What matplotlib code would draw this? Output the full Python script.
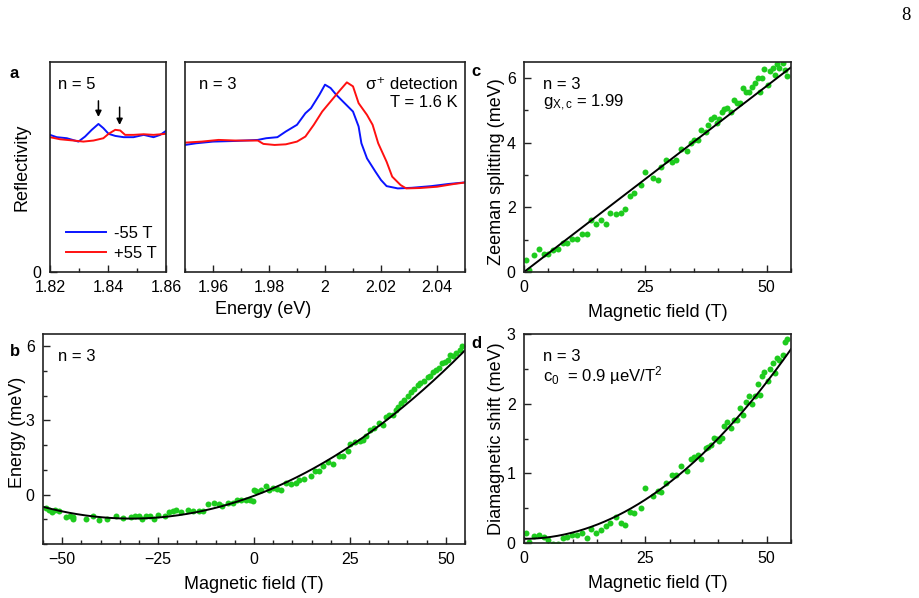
import numpy as np
import matplotlib
matplotlib.use("Agg")
import matplotlib.pyplot as plt
from matplotlib.ticker import MultipleLocator

plt.rcParams['font.family'] = ['Liberation Sans', 'DejaVu Sans']
plt.rcParams['mathtext.fontset'] = 'custom'
plt.rcParams['mathtext.rm'] = 'Liberation Sans'
plt.rcParams['mathtext.it'] = 'Liberation Sans:italic'
plt.rcParams['font.size'] = 12

# ---------------- panel a: reflectivity spectra (n = 5 and n = 3) ----------------
E5_neg = [1.8200, 1.8223, 1.8258, 1.8298, 1.8321, 1.8344, 1.8367, 1.8384, 1.8402,
          1.8425, 1.8454, 1.8488, 1.8523, 1.8557, 1.8580, 1.8600]
R5_neg = [0.653, 0.642, 0.637, 0.621, 0.645, 0.677, 0.705, 0.685, 0.658,
          0.648, 0.642, 0.642, 0.653, 0.642, 0.653, 0.672]
E5_pos = [1.8200, 1.8235, 1.8281, 1.8315, 1.8350, 1.8384, 1.8402, 1.8425, 1.8442,
          1.8459, 1.8488, 1.8523, 1.8557, 1.8600]
R5_pos = [0.642, 0.632, 0.626, 0.621, 0.626, 0.637, 0.658, 0.677, 0.674,
          0.653, 0.653, 0.656, 0.653, 0.658]

E3_neg = [1.950, 1.954, 1.960, 1.968, 1.976, 1.979, 1.983, 1.986, 1.990, 1.993,
          1.995, 1.998, 2.000, 2.002, 2.004, 2.007, 2.010, 2.012, 2.013, 2.015,
          2.018, 2.020, 2.022, 2.026, 2.031, 2.038, 2.044, 2.051]
R3_neg = [0.605, 0.613, 0.621, 0.624, 0.629, 0.637, 0.642, 0.669, 0.701, 0.756,
          0.780, 0.844, 0.892, 0.876, 0.844, 0.804, 0.764, 0.693, 0.613, 0.541,
          0.478, 0.438, 0.409, 0.398, 0.401, 0.409, 0.419, 0.428]
E3_pos = [1.950, 1.956, 1.962, 1.968, 1.976, 1.978, 1.982, 1.986, 1.990, 1.993,
          1.996, 1.999, 2.002, 2.005, 2.0078, 2.010, 2.012, 2.015, 2.017, 2.019,
          2.022, 2.024, 2.027, 2.029, 2.034, 2.040, 2.046, 2.051]
R3_pos = [0.616, 0.621, 0.629, 0.626, 0.626, 0.610, 0.605, 0.608, 0.621, 0.645,
          0.701, 0.764, 0.812, 0.860, 0.903, 0.884, 0.804, 0.748, 0.701, 0.613,
          0.525, 0.454, 0.414, 0.398, 0.400, 0.406, 0.419, 0.428]

arrow_E = [1.8367, 1.8440]
arrow_top = [0.815, 0.785]
arrow_tip = [0.738, 0.700]

# ---------------- panel b: exciton energy vs field ----------------
B_b = [-54.2, -53.5, -52.6, -51.8, -50.9, -49.0, -47.9, -47.3, -47.1, -43.8,
       -41.9, -40.3, -38.4, -36.0, -34.1, -32.1, -31.0, -29.9, -29.1, -28.2,
       -27.2, -26.0, -24.9, -23.2, -22.1, -21.0, -20.4, -19.1, -17.3, -16.0,
       -14.4, -13.2, -12.1, -10.3, -9.0, -8.3, -6.9, -5.6, -4.5, -3.3,
       -2.1, -1.0, -0.3, 0.1, 0.5, 1.8, 3.0, 4.0, 5.0, 5.9,
       7.0, 8.3, 9.6, 10.9, 11.8, 13.1, 14.9, 16.0, 17.0, 18.1,
       19.2, 20.5, 22.1, 23.1, 24.4, 25.0, 26.4, 27.5, 28.5, 29.2,
       30.3, 31.4, 32.7, 33.7, 34.4, 35.3, 36.2, 36.9, 37.5, 38.4,
       39.2, 40.1, 41.0, 41.8, 42.7, 43.3, 44.4, 45.3, 45.9, 46.6,
       47.5, 48.2, 49.0, 49.7, 50.5, 51.0, 51.8, 52.7, 53.6, 54.3]
E_b = [-0.54, -0.63, -0.71, -0.63, -0.67, -0.90, -0.85, -0.90, -0.98, -0.97,
       -0.85, -1.04, -0.98, -0.85, -0.93, -0.90, -0.85, -0.85, -0.98, -0.85,
       -0.88, -0.97, -0.82, -0.88, -0.70, -0.67, -0.63, -0.71, -0.61, -0.67,
       -0.67, -0.67, -0.40, -0.36, -0.40, -0.47, -0.34, -0.36, -0.23, -0.20,
       -0.20, -0.20, -0.24, 0.18, 0.13, 0.18, 0.34, 0.20, 0.27, 0.23,
       0.20, 0.47, 0.44, 0.47, 0.61, 0.63, 0.77, 0.94, 0.94, 1.15,
       1.31, 1.25, 1.55, 1.58, 1.75, 2.06, 2.12, 2.16, 2.20, 2.36,
       2.63, 2.70, 2.90, 2.83, 3.14, 3.23, 3.23, 3.44, 3.54, 3.71,
       3.84, 3.98, 4.14, 4.27, 4.45, 4.51, 4.58, 4.76, 4.78, 4.95,
       5.05, 5.12, 5.32, 5.35, 5.46, 5.66, 5.62, 5.73, 5.84, 6.00]

# ---------------- panels c, d: Zeeman splitting and diamagnetic shift ----------------
B_cd = [0.48, 1.0, 2.05, 3.07, 4.1, 5.0, 5.9, 7.0, 8.0, 8.9,
        9.9, 10.9, 12.0, 13.0, 13.9, 14.9, 15.9, 16.9, 17.8, 18.9,
        19.9, 20.8, 21.9, 22.7, 24.0, 25.0, 26.5, 27.5, 28.3, 29.3,
        30.4, 31.4, 32.4, 33.5, 34.4, 35.0, 35.9, 36.5, 37.4, 37.9,
        38.6, 39.1, 39.7, 40.2, 40.8, 41.3, 41.9, 42.7, 43.2, 43.8,
        44.5, 45.2, 45.7, 46.3, 46.9, 47.5, 48.2, 48.7, 49.1, 49.5,
        50.2, 50.6, 51.2, 51.7, 52.1, 52.6, 53.3, 53.8, 54.1]
zeeman = [0.36, 0.05, 0.52, 0.70, 0.55, 0.57, 0.67, 0.72, 0.90, 0.90,
          1.03, 1.03, 1.19, 1.19, 1.62, 1.48, 1.60, 1.50, 1.83, 1.81,
          1.83, 1.96, 2.36, 2.43, 2.70, 3.08, 2.91, 2.86, 3.25, 3.46,
          3.41, 3.46, 3.80, 3.75, 3.98, 4.10, 4.08, 4.39, 4.34, 4.55,
          4.73, 4.80, 4.60, 4.75, 4.94, 5.03, 5.09, 4.96, 5.32, 5.24,
          5.22, 5.68, 5.58, 5.58, 5.73, 5.84, 5.99, 5.58, 5.99, 6.28,
          5.79, 6.23, 6.30, 6.10, 6.44, 6.30, 6.46, 6.25, 6.06]
diamag = [0.14, 0.01, 0.10, 0.11, 0.09, 0.04, -0.01, -0.01, 0.07, 0.09,
          0.11, 0.11, 0.14, 0.07, 0.20, 0.14, 0.19, 0.24, 0.28, 0.37,
          0.29, 0.26, 0.45, 0.43, 0.50, 0.79, 0.67, 0.74, 0.73, 0.86,
          0.98, 0.97, 1.10, 1.04, 1.20, 1.23, 1.27, 1.20, 1.36, 1.38,
          1.40, 1.51, 1.49, 1.46, 1.51, 1.68, 1.73, 1.65, 1.77, 1.77,
          1.94, 1.84, 2.03, 2.11, 1.99, 2.11, 2.28, 2.13, 2.39, 2.46,
          2.32, 2.50, 2.58, 2.44, 2.66, 2.63, 2.70, 2.89, 2.93]

# fit parameters
mu_B = 0.05788      # meV/T
g_xc = 1.99
c0 = 0.0009         # meV/T^2
E0_b = -0.05
E0_d = 0.06

B_fit = np.linspace(-55, 55, 300)
B_fit_pos = np.linspace(0, 55, 200)

green = '#1ecb1e'
W, H = 919, 598
fig = plt.figure(figsize=(W / 100, H / 100), dpi=100)


def px_axes(x0, y0, x1, y1):
    return fig.add_axes([x0 / W, 1 - y1 / H, (x1 - x0) / W, (y1 - y0) / H])


def style(ax):
    for s in ax.spines.values():
        s.set_linewidth(1.2)
        s.set_color('#222222')
    ax.tick_params(which='both', direction='in', top=False, right=False,
                   labelsize=11.5, pad=6, width=1.0, color='#222222')
    ax.tick_params(which='major', length=5)
    ax.tick_params(which='minor', length=3)


def ftext(x, y, s, **kw):
    fig.text(x / W, 1 - y / H, s, **kw)


# panel a, left
ax1 = px_axes(50, 62, 166, 272)
ax1.plot(E5_neg, R5_neg, color='#0a14ff', lw=1.4, label='-55 T')
ax1.plot(E5_pos, R5_pos, color='#ff1010', lw=1.4, label='+55 T')
for e, t0, t1 in zip(arrow_E, arrow_top, arrow_tip):
    ax1.annotate('', xy=(e, t1), xytext=(e, t0),
                 arrowprops=dict(arrowstyle='-|>', color='k', lw=1.1,
                                 mutation_scale=9, shrinkA=0, shrinkB=0))
ax1.set_xlim(1.82, 1.86)
ax1.set_ylim(0, 1)
ax1.set_xticks([1.82, 1.84, 1.86])
ax1.set_xticklabels(['1.82', '1.84', '1.86'])
ax1.xaxis.set_minor_locator(MultipleLocator(0.01))
ax1.set_yticks([0])
style(ax1)
ax1.set_ylabel('Reflectivity', fontsize=13)
ax1.yaxis.set_label_coords(-0.17, 0.5)
ax1.text(0.07, 0.93, 'n = 5', transform=ax1.transAxes, fontsize=12, va='top')
ax1.legend(loc='lower left', bbox_to_anchor=(0.08, 0.02), frameon=False,
           handlelength=2.4, handletextpad=0.5, fontsize=12, labelspacing=0.3,
           borderaxespad=0)

# panel a, right
ax2 = px_axes(185, 62, 465, 272)
ax2.plot(E3_neg, R3_neg, color='#0a14ff', lw=1.4)
ax2.plot(E3_pos, R3_pos, color='#ff1010', lw=1.4)
ax2.set_xlim(1.95, 2.05)
ax2.set_ylim(0, 1)
ax2.set_xticks([1.96, 1.98, 2.00, 2.02, 2.04])
ax2.set_xticklabels(['1.96', '1.98', '2', '2.02', '2.04'])
ax2.xaxis.set_minor_locator(MultipleLocator(0.01))
ax2.set_yticks([])
style(ax2)
ax2.text(0.05, 0.93, 'n = 3', transform=ax2.transAxes, fontsize=12, va='top')
ax2.text(0.975, 0.93, 'σ⁺ detection\nT = 1.6 K', transform=ax2.transAxes,
         fontsize=12, va='top', ha='right', linespacing=1.25)
ftext(263, 310, 'Energy (eV)', ha='center', va='center', fontsize=13)

# panel c
axc = px_axes(524, 62, 791, 272)
axc.plot(B_cd, zeeman, 'o', color=green, ms=4.3, mec='none')
axc.plot(B_fit_pos, g_xc * mu_B * B_fit_pos, color='k', lw=1.4)
axc.set_xlim(0, 55)
axc.set_ylim(0, 6.5)
axc.xaxis.set_major_locator(MultipleLocator(25))
axc.xaxis.set_minor_locator(MultipleLocator(5))
axc.yaxis.set_major_locator(MultipleLocator(2))
axc.yaxis.set_minor_locator(MultipleLocator(1))
style(axc)
axc.set_xlabel('Magnetic field (T)', fontsize=13, labelpad=6)
axc.set_ylabel('Zeeman splitting (meV)', fontsize=13)
axc.yaxis.set_label_coords(-0.071, 0.48)
axc.text(0.07, 0.93, 'n = 3', transform=axc.transAxes, fontsize=12, va='top')
axc.text(0.07, 0.855, r'g$_{\mathrm{X,c}}$ = 1.99', transform=axc.transAxes,
         fontsize=12, va='top')

# panel b
axb = px_axes(43, 334, 465, 544)
axb.plot(B_b, E_b, 'o', color=green, ms=4.3, mec='none')
axb.plot(B_fit, 0.5 * g_xc * mu_B * B_fit + c0 * B_fit ** 2 + E0_b, color='k', lw=1.4)
axb.set_xlim(-55, 55)
axb.set_ylim(-2, 6.5)
axb.set_xticks([-50, -25, 0, 25, 50])
axb.set_xticklabels(['\u221250', '\u221225', '0', '25', '50'])
axb.xaxis.set_minor_locator(MultipleLocator(5))
axb.yaxis.set_major_locator(MultipleLocator(3))
axb.yaxis.set_minor_locator(MultipleLocator(1))
style(axb)
axb.set_xlabel('Magnetic field (T)', fontsize=13, labelpad=6)
axb.set_ylabel('Energy (meV)', fontsize=13)
axb.yaxis.set_label_coords(-0.041, 0.53)
axb.text(0.035, 0.93, 'n = 3', transform=axb.transAxes, fontsize=12, va='top')

# panel d
axd = px_axes(524, 334, 791, 543)
axd.plot(B_cd, diamag, 'o', color=green, ms=4.3, mec='none')
axd.plot(B_fit_pos, c0 * B_fit_pos ** 2 + E0_d, color='k', lw=1.4)
axd.set_xlim(0, 55)
axd.set_ylim(0, 3)
axd.xaxis.set_major_locator(MultipleLocator(25))
axd.xaxis.set_minor_locator(MultipleLocator(5))
axd.yaxis.set_major_locator(MultipleLocator(1))
axd.yaxis.set_minor_locator(MultipleLocator(0.5))
style(axd)
axd.set_xlabel('Magnetic field (T)', fontsize=13, labelpad=6)
axd.set_ylabel('Diamagnetic shift (meV)', fontsize=13)
axd.yaxis.set_label_coords(-0.071, 0.5)
axd.text(0.07, 0.93, 'n = 3', transform=axd.transAxes, fontsize=12, va='top')
axd.text(0.07, 0.855, r'c$_0$  = 0.9 µeV/T$^2$', transform=axd.transAxes,
         fontsize=12, va='top')

# panel letters and page number
for lab, x, y in [('a', 10, 74), ('b', 10, 351), ('c', 471, 72), ('d', 471, 344)]:
    ftext(x, y, lab, fontsize=12, fontweight='bold', ha='left', va='center')
ftext(906, 15, '8', fontsize=13.5, family='Liberation Serif', ha='center', va='center')

fig.savefig('out.png', dpi=100)
